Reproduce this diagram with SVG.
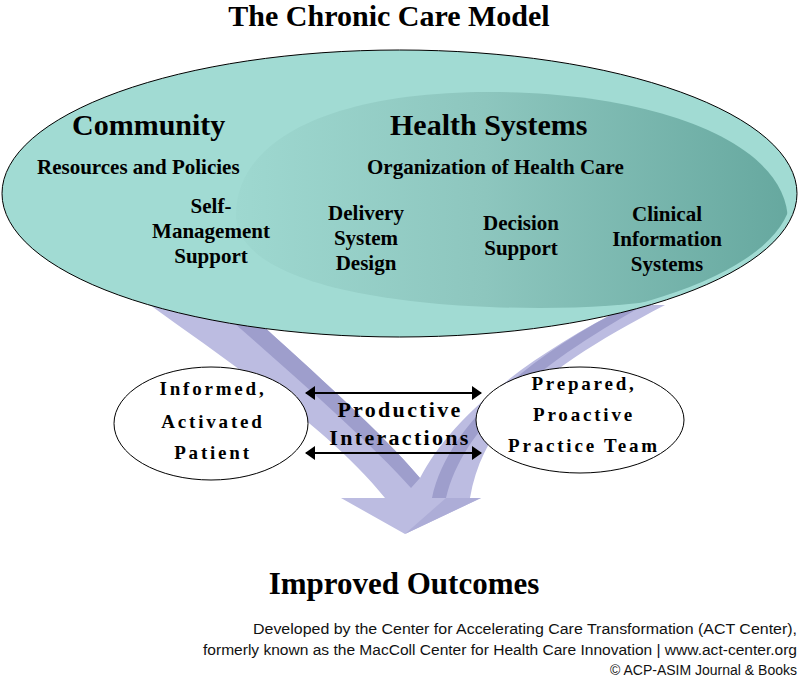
<svg xmlns="http://www.w3.org/2000/svg" width="802" height="682" viewBox="0 0 802 682">
  <defs>
    <linearGradient id="hsGrad" gradientUnits="userSpaceOnUse" x1="236" y1="0" x2="790" y2="0">
      <stop offset="0" stop-color="#9ed8d0"/>
      <stop offset="0.45" stop-color="#8dc6be"/>
      <stop offset="1" stop-color="#66a89f"/>
    </linearGradient>
    <clipPath id="inOuter">
      <ellipse cx="399.5" cy="193.5" rx="392" ry="139"/>
    </clipPath>
    <marker id="ah" viewBox="0 0 10 14" refX="9" refY="7" markerWidth="10" markerHeight="14" markerUnits="userSpaceOnUse" orient="auto-start-reverse">
      <path d="M0,0 L10,7 L0,14 Z" fill="#000"/>
    </marker>
    <style>
      .serif { font-family: "Liberation Serif", "Times New Roman", serif; font-weight: bold; fill: #000; }
      .t30 { font-size: 30px; }
      .t21 { font-size: 21px; text-anchor: middle; }
      .sp { font-size: 19px; letter-spacing: 2.8px; text-anchor: middle; }
      .pi { font-size: 22px; letter-spacing: 2.3px; text-anchor: middle; }
      .foot { font-family: "Liberation Sans", Arial, sans-serif; font-size: 14px; fill: #111; text-anchor: end; }
      .node { fill: #fff; stroke: #000; stroke-width: 1; }
      .conn { stroke: #000; stroke-width: 2; fill: none; }
      .armL { fill: #bcbce1; }
      .armD { fill: #9e9ecc; }
    </style>
  </defs>

  <g id="title">
    <text class="serif t30" x="389" y="26" text-anchor="middle">The Chronic Care Model</text>
  </g>

  <g id="outcome-arrow">
    <path class="armL" d="M150,305 L240,305 C300,360 380,430 420,478 C450,420 520,360 630,305 L665,305 C560,360 485,410 470,498 L481,498 L405,534 L341,498 L385,498 C330,430 240,370 150,305 Z"/>
    <path class="armD" d="M240,305 C300,360 380,430 420,478 L411,488 C368,440 292,374 226,316 Z"/>
    <path class="armD" d="M432,498 C446,430 520,360 630,305 L644,305 C536,366 463,426 446,498 Z"/>
    <path fill="#adadd7" d="M446,498 L481,498 L405,534 Z"/>
  </g>

  <g id="community">
    <ellipse cx="399.5" cy="193.5" rx="397.5" ry="143.5" fill="#a1dbd3" stroke="#000" stroke-width="1"/>
  </g>

  <g id="health-systems">
    <path fill="url(#hsGrad)" clip-path="url(#inOuter)" d="M236,215 C236,140 330,92 490,92 C650,92 788,140 788,222 C788,280 690,308 540,308 C380,308 236,280 236,215 Z"/>
  </g>

  <g id="labels-community">
    <text class="serif t30" x="72" y="135">Community</text>
    <text class="serif" font-size="21" x="37" y="174">Resources and Policies</text>
  </g>
  <g id="labels-health">
    <text class="serif t30" x="390" y="135">Health Systems</text>
    <text class="serif" font-size="21" x="367" y="174">Organization of Health Care</text>
  </g>

  <g id="self-management">
    <text class="serif t21" x="211" y="213">Self-</text>
    <text class="serif t21" x="211" y="238">Management</text>
    <text class="serif t21" x="211" y="263">Support</text>
  </g>
  <g id="delivery-system-design">
    <text class="serif t21" x="366" y="220">Delivery</text>
    <text class="serif t21" x="366" y="245">System</text>
    <text class="serif t21" x="366" y="270">Design</text>
  </g>
  <g id="decision-support">
    <text class="serif t21" x="521" y="230">Decision</text>
    <text class="serif t21" x="521" y="255">Support</text>
  </g>
  <g id="clinical-information-systems">
    <text class="serif t21" x="667" y="221">Clinical</text>
    <text class="serif t21" x="667" y="246">Information</text>
    <text class="serif t21" x="667" y="271">Systems</text>
  </g>

  <g id="patient">
    <ellipse class="node" cx="211" cy="423.5" rx="97" ry="56.5"/>
    <text class="serif sp" x="213" y="395">Informed,</text>
    <text class="serif sp" x="213" y="428">Activated</text>
    <text class="serif sp" x="213" y="459">Patient</text>
  </g>

  <g id="practice-team">
    <ellipse class="node" cx="580" cy="420" rx="104" ry="53"/>
    <text class="serif sp" x="584" y="390">Prepared,</text>
    <text class="serif sp" x="584" y="421">Proactive</text>
    <text class="serif sp" x="584" y="452">Practice Team</text>
  </g>

  <g id="connectors">
    <line class="conn" x1="306" y1="393" x2="481" y2="393" marker-start="url(#ah)" marker-end="url(#ah)"/>
    <line class="conn" x1="306" y1="453" x2="481" y2="453" marker-start="url(#ah)" marker-end="url(#ah)"/>
  </g>

  <g id="productive-interactions">
    <text class="serif pi" x="400" y="417">Productive</text>
    <text class="serif pi" x="400" y="445">Interactions</text>
  </g>

  <g id="improved-outcomes">
    <text class="serif" font-size="31" x="404" y="594" text-anchor="middle">Improved Outcomes</text>
  </g>

  <g id="credits">
    <text class="foot" x="797" y="634" textLength="544" lengthAdjust="spacingAndGlyphs">Developed by the Center for Accelerating Care Transformation (ACT Center),</text>
    <text class="foot" x="797" y="655" textLength="594" lengthAdjust="spacingAndGlyphs">formerly known as the MacColl Center for Health Care Innovation | www.act-center.org</text>
    <text class="foot" x="797" y="675" textLength="187" lengthAdjust="spacingAndGlyphs">© ACP-ASIM Journal &amp; Books</text>
  </g>
</svg>
